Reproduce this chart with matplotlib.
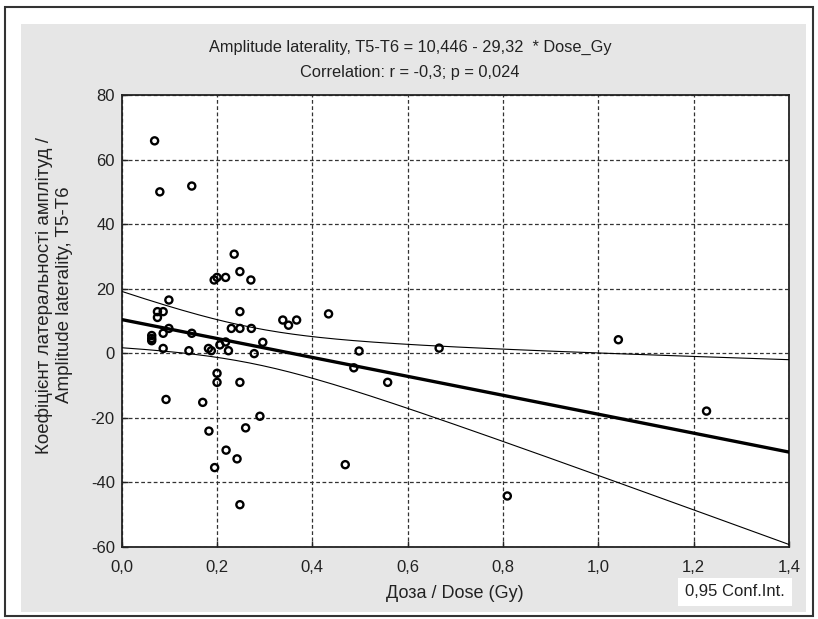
import matplotlib
matplotlib.use("Agg")
import matplotlib.pyplot as plt
from matplotlib.patches import Rectangle
import numpy as np

plt.rcParams['font.family'] = ['Liberation Sans', 'DejaVu Sans']
plt.rcParams['axes.unicode_minus'] = False

# Dose (Gy) and amplitude laterality T5-T6
dose = [0.069, 0.080, 0.147, 0.236, 0.248, 0.194, 0.200, 0.218, 0.271,
        0.099, 0.075, 0.087, 0.075, 0.099, 0.087, 0.063, 0.063, 0.063,
        0.087, 0.093, 0.147, 0.141, 0.182, 0.188, 0.206, 0.218, 0.224,
        0.230, 0.248, 0.248, 0.272, 0.296, 0.278, 0.200, 0.200, 0.248,
        0.338, 0.350, 0.367, 0.170, 0.290, 0.183, 0.260, 0.219, 0.242,
        0.195, 0.248, 0.434, 0.498, 0.487, 0.558, 0.666, 0.469, 0.809,
        1.042, 1.227]
lat = [65.8, 50.0, 51.8, 30.7, 25.3, 22.7, 23.5, 23.5, 22.7,
       16.5, 12.9, 12.9, 11.1, 7.7, 6.2, 5.5, 4.6, 3.9,
       1.5, -14.3, 6.2, 0.8, 1.5, 0.8, 2.6, 3.5, 0.8,
       7.7, 12.9, 7.7, 7.7, 3.4, -0.1, -6.2, -9.0, -9.0,
       10.3, 8.7, 10.3, -15.2, -19.5, -24.1, -23.1, -30.0, -32.7,
       -35.4, -46.9, 12.2, 0.7, -4.5, -9.0, 1.6, -34.5, -44.2,
       4.2, -17.9]

# regression from the chart title
intercept = 10.446
slope = -29.32
t_crit = 2.005  # t(0.975, df=54)

xticks = [0.0, 0.2, 0.4, 0.6, 0.8, 1.0, 1.2, 1.4]
xticklabels = ['0,0', '0,2', '0,4', '0,6', '0,8', '1,0', '1,2', '1,4']
yticks = [-60, -40, -20, 0, 20, 40, 60, 80]

x = np.array(dose)
y = np.array(lat)
n = len(x)
resid = y - (intercept + slope * x)
s = np.sqrt(np.sum(resid ** 2) / (n - 2))
xbar = x.mean()
sxx = np.sum((x - xbar) ** 2)

xs = np.linspace(0, 1.4, 200)
fit = intercept + slope * xs
half = t_crit * s * np.sqrt(1.0 / n + (xs - xbar) ** 2 / sxx)

fig = plt.figure(figsize=(8.18, 6.19), dpi=100)
fig.patch.set_facecolor('white')

# grey panel and outer frame
fig.add_artist(Rectangle((21 / 818, 1 - 612 / 619), 785 / 818, 588 / 619,
                         transform=fig.transFigure, facecolor='#e6e6e6',
                         edgecolor='none', zorder=0))
fig.add_artist(Rectangle((5 / 818, 1 - 616 / 619), 808 / 818, 609 / 619,
                         transform=fig.transFigure, facecolor='none',
                         edgecolor='#333333', linewidth=1.5, zorder=1))

ax = fig.add_axes([121.7 / 818, 1 - 547 / 619, 667.3 / 818, 452 / 619])
ax.set_facecolor('white')

ax.plot(xs, fit, color='black', linewidth=2.4, zorder=3)
ax.plot(xs, fit + half, color='black', linewidth=0.8, zorder=3)
ax.plot(xs, fit - half, color='black', linewidth=0.8, zorder=3)
ax.scatter(x, y, s=26, facecolors='none', edgecolors='black',
           linewidths=1.7, zorder=4)

ax.set_xlim(0, 1.4)
ax.set_ylim(-60, 80)
ax.set_xticks(xticks)
ax.set_xticklabels(xticklabels)
ax.set_yticks(yticks)
ax.tick_params(direction='in', length=4, width=1, labelsize=12,
               colors='#222222', pad=5)
ax.tick_params(axis='x', pad=9)
ax.grid(True, color='#333333', linestyle=(0, (3, 2)), linewidth=0.9)
for sp in ax.spines.values():
    sp.set_linewidth(1.3)
    sp.set_color('#222222')

fig.text(410 / 818, 1 - 47 / 619,
         'Amplitude laterality, T5-T6 = 10,446 - 29,32  * Dose_Gy',
         ha='center', va='center', fontsize=11.8, color='#222222')
fig.text(410 / 818, 1 - 72 / 619, 'Correlation: r = -0,3; p = 0,024',
         ha='center', va='center', fontsize=11.8, color='#222222')
fig.text(455 / 818, 1 - 594 / 619, 'Доза / Dose (Gy)',
         ha='center', va='center', fontsize=13, color='#222222')
fig.text(54 / 818, 1 - 295 / 619,
         'Коефіцієнт латеральності амплітуд /\nAmplitude laterality, T5-T6',
         ha='center', va='center', rotation=90, fontsize=13.5,
         color='#222222', linespacing=1.25)
fig.text(735 / 818, 1 - 592 / 619, '0,95 Conf.Int.', ha='center',
         va='center', fontsize=12, color='#222222',
         bbox=dict(boxstyle='square,pad=0.4', facecolor='white',
                   edgecolor='none'))

fig.savefig('out.png', dpi=100)
